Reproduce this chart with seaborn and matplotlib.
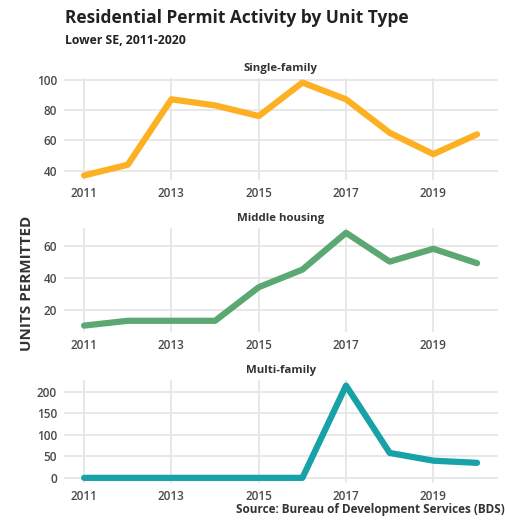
import matplotlib
matplotlib.use("Agg")
from matplotlib import pyplot as plt
import pandas as pd
import seaborn as sns

years = [2011, 2012, 2013, 2014, 2015, 2016, 2017, 2018, 2019, 2020]
single_family = [37, 44, 87, 83, 76, 98, 87, 65, 51, 64]
middle_housing = [10, 13, 13, 13, 34, 45, 68, 50, 58, 49]
multi_family = [0, 0, 0, 0, 0, 0, 215, 58, 40, 35]

panel_names = ["Single-family", "Middle housing", "Multi-family"]
colors = ["#FDB022", "#5BA873", "#17A2A8"]
year_ticks = [2011, 2013, 2015, 2017, 2019]
y_ticks = [[40, 60, 80, 100], [20, 40, 60], [0, 50, 100, 150, 200]]
y_limits = [(34, 101), (6, 71), (-12, 228)]

df = pd.DataFrame({"year": years, "Single-family": single_family,
                   "Middle housing": middle_housing, "Multi-family": multi_family})

sns.set_style("whitegrid")
plt.rcParams["font.family"] = ["Open Sans", "DejaVu Sans"]

W, H = 506, 522
fig = plt.figure(figsize=(W / 100, H / 100), dpi=100)

# axes boxes in pixels: (top, bottom)
boxes = [(78, 180), (228, 332), (380, 483)]
left, right = 64, 498

for i, name in enumerate(panel_names):
    top, bottom = boxes[i]
    ax = fig.add_axes([left / W, 1 - bottom / H, (right - left) / W, (bottom - top) / H])
    sns.lineplot(data=df, x="year", y=name, ax=ax, color=colors[i], linewidth=4.5)
    ax.set_xlim(2010.54, 2020.48)
    ax.set_ylim(*y_limits[i])
    ax.set_xticks(year_ticks)
    ax.set_yticks(y_ticks[i])
    ax.set_xlabel("")
    ax.set_ylabel("")
    for s in ax.spines.values():
        s.set_visible(False)
    ax.grid(True, color="#e6e6e6", linewidth=1.3)
    ax.tick_params(length=0, labelsize=8.5, labelcolor="#4a4a4a", pad=5)
    for lbl in ax.get_xticklabels() + ax.get_yticklabels():
        lbl.set_fontweight("semibold")
    ax.set_title(name, fontsize=8.2, fontweight="bold", color="#333333", pad=5)

fig.text(65 / W, 1 - 18 / H, "Residential Permit Activity by Unit Type",
         fontsize=12.5, fontweight="bold", color="#222222", va="center", ha="left")
fig.text(65 / W, 1 - 40 / H, "Lower SE, 2011-2020",
         fontsize=8.8, fontweight="bold", color="#222222", va="center", ha="left")
fig.text(27 / W, 1 - 283 / H, "UNITS PERMITTED", rotation=90,
         fontsize=11, fontweight="bold", color="#333333", va="center", ha="center")
fig.text(505 / W, 1 - 509 / H, "Source: Bureau of Development Services (BDS)",
         fontsize=8.5, fontweight="bold", color="#333333", va="center", ha="right")

fig.savefig("out.png", dpi=100)
